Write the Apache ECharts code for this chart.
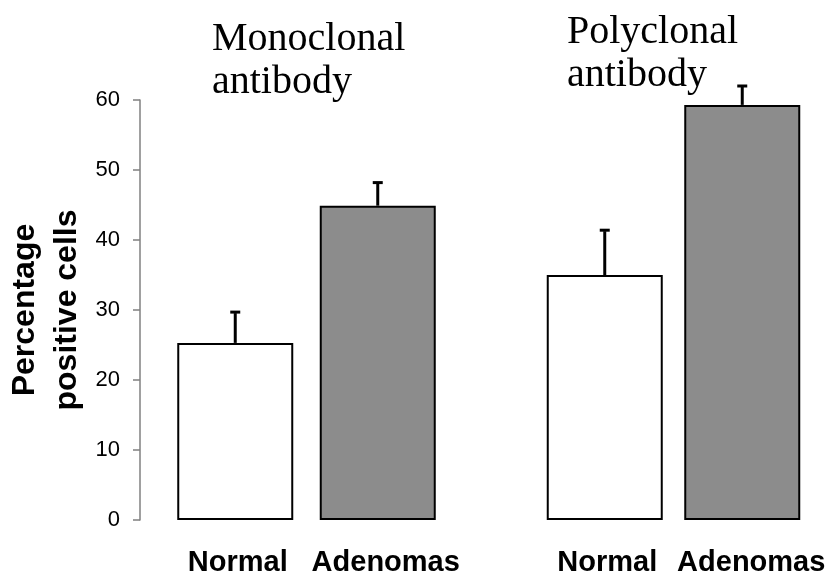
<!DOCTYPE html>
<html>
<head>
  <meta charset="utf-8">
  <script src="https://cdn.jsdelivr.net/npm/echarts@6/dist/echarts.min.js"></script>
</head>
<body style="margin: 0; background: #fff">
  <div id="container" style="width: 830px; height: 577px"></div>
  <script type="text/javascript">
    // data
    var categories = ['Normal', 'Adenomas'];
    var monoMeans = [25.3, 44.9];
    var monoErrors = [4.4, 3.3];
    var polyMeans = [35.0, 59.3];
    var polyErrors = [6.4, 2.7];
    var yTicks = [0, 10, 20, 30, 40, 50, 60];
    var groupTitles = ['Monoclonal\nantibody', 'Polyclonal\nantibody'];

    var fills = ['#ffffff', '#8c8c8c'];
    var sansFont = '"Liberation Sans", Arial, sans-serif';
    var serifFont = '"Liberation Serif", "Times New Roman", serif';

    var chart = echarts.init(document.getElementById('container'), null, { renderer: 'canvas' });

    function barData(means) {
      return means.map(function (v, i) {
        return { value: v, itemStyle: { color: fills[i] } };
      });
    }

    function errData(means, errs) {
      return means.map(function (v, i) {
        return [i, v, errs[i]];
      });
    }

    // stem plus a short cap on top of each bar
    function errorItem(params, api) {
      var x = api.value(0);
      var base = api.coord([x, api.value(1)]);
      var top = api.coord([x, api.value(1) + api.value(2)]);
      var half = 5;
      var st = { stroke: '#000', lineWidth: 3 };
      return {
        type: 'group',
        children: [
          { type: 'line', shape: { x1: base[0], y1: base[1], x2: top[0], y2: top[1] + 1 }, style: st },
          { type: 'line', shape: { x1: top[0] - half, y1: top[1], x2: top[0] + half, y2: top[1] }, style: st }
        ]
      };
    }

    function xAxisFor(gridIndex, shiftAden) {
      return {
        type: 'category',
        gridIndex: gridIndex,
        data: categories,
        axisLine: { show: false },
        axisTick: { show: false },
        axisLabel: {
          interval: 0,
          margin: 28,
          formatter: function (v) {
            return v === 'Normal' ? '{n|' + v + '}' : '{a|' + v + '}';
          },
          rich: {
            n: { fontFamily: sansFont, fontWeight: 'bold', fontSize: 29, color: '#000', padding: [0, 0, 0, 5] },
            a: { fontFamily: sansFont, fontWeight: 'bold', fontSize: 29, color: '#000', padding: [0, 0, 0, shiftAden] }
          }
        }
      };
    }

    var yBase = {
      type: 'value',
      min: 0,
      max: 60,
      interval: 10,
      splitLine: { show: false }
    };

    var option = {
      animation: false,
      backgroundColor: '#fff',
      grid: [
        { left: 164, width: 285, top: 100, bottom: 57, outerBoundsMode: 'none' },
        { left: 536, width: 275, top: 100, bottom: 57, outerBoundsMode: 'none' }
      ],
      xAxis: [xAxisFor(0, 16), xAxisFor(1, 18)],
      yAxis: [
        Object.assign({}, yBase, {
          gridIndex: 0,
          offset: 24,
          name: 'Percentage\npositive cells',
          nameLocation: 'middle',
          nameRotate: 90,
          nameGap: 52,
          nameTextStyle: {
            fontFamily: sansFont,
            fontWeight: 'bold',
            fontSize: 32,
            lineHeight: 42,
            color: '#000'
          },
          axisLine: { show: true, lineStyle: { color: '#808080', width: 1.5 } },
          axisTick: { show: true, length: 7, lineStyle: { color: '#808080', width: 1.5 } },
          axisLabel: {
            margin: 20,
            fontFamily: sansFont,
            fontSize: 22,
            color: '#000',
            formatter: function (v) { return yTicks.indexOf(v) >= 0 ? String(v) : ''; }
          }
        }),
        Object.assign({}, yBase, {
          gridIndex: 1,
          show: false
        })
      ],
      graphic: [
        {
          type: 'text', left: 212, top: 18,
          style: { text: groupTitles[0], font: '40px ' + serifFont, lineHeight: 43, fill: '#000' }
        },
        {
          type: 'text', left: 567, top: 11,
          style: { text: groupTitles[1], font: '40px ' + serifFont, lineHeight: 43, fill: '#000' }
        }
      ],
      series: [
        {
          type: 'bar', xAxisIndex: 0, yAxisIndex: 0,
          barWidth: 116,
          data: barData(monoMeans),
          itemStyle: { borderColor: '#000', borderWidth: 2 }
        },
        {
          type: 'bar', xAxisIndex: 1, yAxisIndex: 1,
          barWidth: 116,
          data: barData(polyMeans),
          itemStyle: { borderColor: '#000', borderWidth: 2 }
        },
        {
          type: 'custom', xAxisIndex: 0, yAxisIndex: 0,
          renderItem: errorItem,
          encode: { x: 0, y: 1 },
          data: errData(monoMeans, monoErrors),
          z: 3
        },
        {
          type: 'custom', xAxisIndex: 1, yAxisIndex: 1,
          renderItem: errorItem,
          encode: { x: 0, y: 1 },
          data: errData(polyMeans, polyErrors),
          clip: false,
          z: 3
        }
      ]
    };

    chart.setOption(option);
    window.addEventListener('resize', chart.resize);
  </script>
</body>
</html>
